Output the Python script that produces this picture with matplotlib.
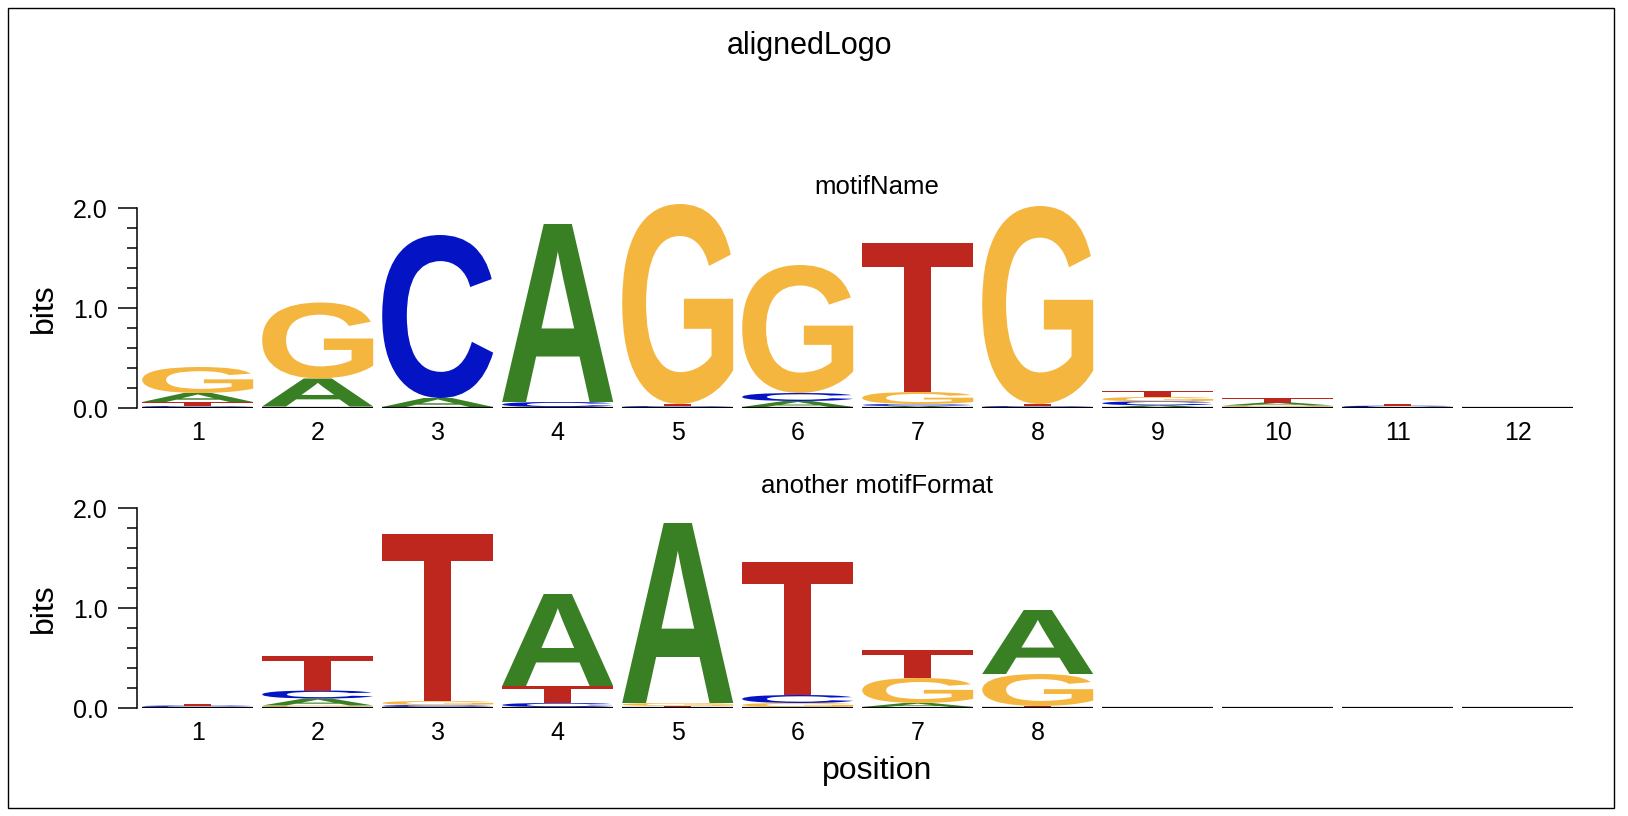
import matplotlib

matplotlib.use("Agg")
import matplotlib.pyplot as plt  # noqa: E402
from matplotlib.font_manager import FontProperties  # noqa: E402
from matplotlib.patches import PathPatch, Rectangle  # noqa: E402
from matplotlib.textpath import TextPath  # noqa: E402
from matplotlib.ticker import MultipleLocator  # noqa: E402
from matplotlib.transforms import Affine2D  # noqa: E402

plt.rcParams["font.family"] = ["Liberation Sans", "DejaVu Sans"]

# Information content (bits) of each base per position.
bases = ["A", "C", "G", "T"]
colors = {"A": "#397F24", "C": "#0414C4", "G": "#F5B640", "T": "#BD271D"}

motif1_name = "motifName"
motif1_A = [0.09, 0.28, 0.09, 1.78, 0.01, 0.06, 0.02, 0.01, 0.027, 0.03, 0.005, 0.004]
motif1_C = [0.02, 0.005, 1.63, 0.05, 0.01, 0.08, 0.02, 0.01, 0.04, 0.01, 0.015, 0.003]
motif1_G = [0.26, 0.76, 0.005, 0.005, 2.00, 1.28, 0.12, 1.98, 0.043, 0.015, 0.003, 0.003]
motif1_T = [0.04, 0.01, 0.005, 0.005, 0.02, 0.01, 1.49, 0.02, 0.06, 0.045, 0.02, 0.005]

motif2_name = "another motifFormat"
motif2_A = [0.005, 0.07, 0.01, 0.92, 1.80, 0.01, 0.04, 0.64]
motif2_C = [0.015, 0.08, 0.02, 0.04, 0.01, 0.08, 0.01, 0.005]
motif2_G = [0.005, 0.025, 0.04, 0.01, 0.03, 0.04, 0.25, 0.32]
motif2_T = [0.015, 0.35, 1.67, 0.17, 0.01, 1.33, 0.28, 0.015]

n_positions = 12
title = "alignedLogo"

W, H = 1628, 816
COL_W = 0.925
LETTER_FONT = FontProperties(family="Liberation Sans", weight="bold")


def letter_patch(letter, x0, y0, width, height, color):
    path = TextPath((0, 0), letter, size=1, prop=LETTER_FONT)
    ext = path.get_extents()
    t = (
        Affine2D()
        .translate(-ext.x0, -ext.y0)
        .scale(width / ext.width, height / ext.height)
        .translate(x0, y0)
    )
    return PathPatch(t.transform_path(path), facecolor=color, edgecolor="none", lw=0)


def draw_logo(ax, heights, name, label_y):
    n = len(heights["A"])
    for i in range(n):
        pos = i + 1
        stack = sorted(bases, key=lambda b: heights[b][i])
        y = 0.0
        for b in stack:
            h = heights[b][i]
            ax.add_patch(letter_patch(b, pos - COL_W / 2, y, COL_W, h, colors[b]))
            y += h
    for pos in range(1, n_positions + 1):
        ax.plot([pos - COL_W / 2, pos + COL_W / 2], [0, 0], color="black",
                lw=1.6, solid_capstyle="butt", zorder=3)

    ax.set_xlim(0.49, 12.51)
    ax.set_ylim(0, 2.1)
    for side in ("top", "right", "bottom"):
        ax.spines[side].set_visible(False)
    ax.spines["left"].set_bounds(0, 2)
    ax.spines["left"].set_linewidth(1.1)
    ax.set_yticks([0, 1, 2], ["0.0", "1.0", "2.0"])
    ax.yaxis.set_minor_locator(MultipleLocator(0.2))
    ax.tick_params(axis="y", which="major", length=13.7, width=1.1, pad=7, labelsize=18)
    ax.tick_params(axis="y", which="minor", length=7.2, width=1.1)
    ax.set_xticks(range(1, n + 1), [str(p) for p in range(1, n + 1)])
    ax.tick_params(axis="x", length=0, pad=9, labelsize=18)
    ax.set_ylabel("bits", fontsize=23)
    ax.figure.text(877 / W, label_y, name, ha="center", va="baseline", fontsize=18.5)


def main():
    fig = plt.figure(figsize=(W / 100, H / 100), dpi=100)
    left = 136.5 / W
    width = (1578.9 - 136.5) / W
    ax1 = fig.add_axes([left, (H - 408) / H, width, 210 / H])
    ax2 = fig.add_axes([left, (H - 708) / H, width, 210 / H])

    m1 = {"A": motif1_A, "C": motif1_C, "G": motif1_G, "T": motif1_T}
    m2 = {"A": motif2_A, "C": motif2_C, "G": motif2_G, "T": motif2_T}
    draw_logo(ax1, m1, motif1_name, (H - 194) / H)
    draw_logo(ax2, m2, motif2_name, (H - 493) / H)
    for ax in (ax1, ax2):
        # label anchor is the right edge of the rotated text
        ax.yaxis.set_label_coords(-(136.5 - 59) / (1578.9 - 136.5), 1 / 2.1)

    fig.text(809 / W, (H - 46) / H, title, ha="center", va="center", fontsize=22)
    fig.text(877 / W, (H - 779) / H, "position", ha="center", va="baseline", fontsize=23)
    fig.patches.append(
        Rectangle((8 / W, 8 / H), (1614 - 8) / W, (808 - 8) / H,
                  transform=fig.transFigure, fill=False, edgecolor="black", lw=1)
    )
    fig.savefig("out.png", dpi=100)


if __name__ == "__main__":
    main()
